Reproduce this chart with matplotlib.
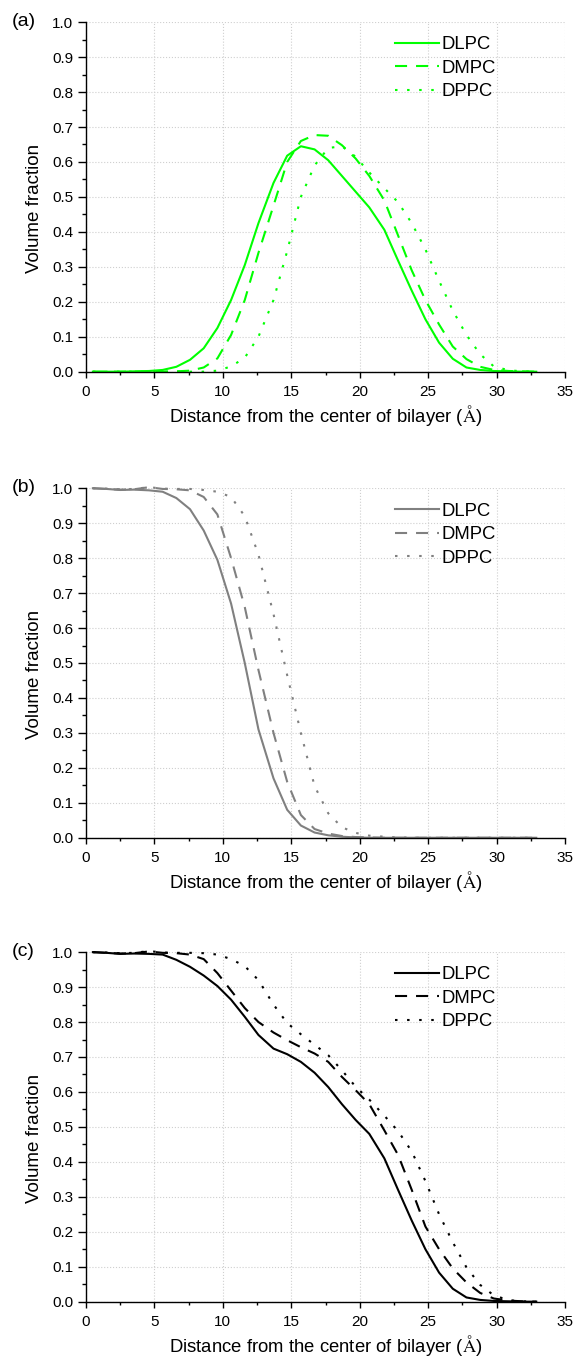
import numpy as np
import matplotlib
matplotlib.use('Agg')
import matplotlib.pyplot as plt
from matplotlib.ticker import MultipleLocator, FormatStrFormatter

plt.rcParams['font.family'] = ['Liberation Sans', 'DejaVu Sans']
plt.rcParams['mathtext.fontset'] = 'stix'

# distance from bilayer center (A)
x = [0.5, 1.5, 2.5, 3.5, 4.6, 5.6, 6.6, 7.6, 8.6, 9.6, 10.6, 11.6, 12.6, 13.7, 14.7, 15.7,
     16.7, 17.7, 18.7, 19.7, 20.7, 21.8, 22.8, 23.8, 24.8, 25.8, 26.8, 27.8, 28.8, 29.8,
     30.9, 31.9, 32.9]

# (a) green
a_dlpc = [0.0, 0.0, 0.0, 0.001, 0.002, 0.005, 0.014, 0.034, 0.067, 0.125, 0.205, 0.305, 0.425,
          0.54, 0.618, 0.645, 0.636, 0.605, 0.56, 0.515, 0.47, 0.406, 0.318, 0.232, 0.15, 0.083,
          0.037, 0.012, 0.005, 0.002, 0.001, 0.0, 0.0]
a_dmpc = [0.0, 0.0, 0.0, 0.0, 0.0, 0.0, 0.001, 0.003, 0.012, 0.038, 0.105, 0.205, 0.34, 0.475,
          0.6, 0.66, 0.677, 0.675, 0.648, 0.61, 0.56, 0.49, 0.39, 0.29, 0.205, 0.135, 0.072,
          0.036, 0.014, 0.005, 0.002, 0.001, 0.0]
a_dppc = [0.0, 0.0, 0.0, 0.0, 0.0, 0.0, 0.0, 0.0, 0.0, 0.003, 0.015, 0.04, 0.10, 0.205, 0.345,
          0.50, 0.59, 0.64, 0.645, 0.615, 0.57, 0.525, 0.485, 0.425, 0.35, 0.26, 0.175, 0.105,
          0.05, 0.015, 0.004, 0.001, 0.0]

# (b) grey
b_dlpc = [1.0, 0.998, 0.995, 0.996, 0.994, 0.99, 0.972, 0.94, 0.879, 0.795, 0.67, 0.5, 0.31,
          0.17, 0.08, 0.035, 0.015, 0.007, 0.003, 0.001, 0.0, 0.0, 0.0, 0.0, 0.0, 0.0, 0.0, 0.0,
          0.0, 0.0, 0.0, 0.0, 0.0]
b_dmpc = [1.0, 0.998, 0.996, 0.997, 1.003, 0.998, 0.997, 0.994, 0.975, 0.925, 0.80, 0.66, 0.48,
          0.30, 0.16, 0.065, 0.025, 0.012, 0.005, 0.002, 0.001, 0.0, 0.0, 0.0, 0.0, 0.0, 0.0,
          0.0, 0.0, 0.0, 0.0, 0.0, 0.0]
b_dppc = [1.0, 0.999, 0.997, 0.998, 1.003, 0.999, 0.998, 0.998, 0.995, 0.99, 0.975, 0.92,
          0.81, 0.64, 0.465, 0.30, 0.148, 0.07, 0.03, 0.014, 0.006, 0.003, 0.001, 0.0, 0.0, 0.0,
          0.0, 0.0, 0.0, 0.0, 0.0, 0.0, 0.0]

# (c) black
c_dlpc = [1.0, 0.998, 0.995, 0.996, 0.995, 0.993, 0.978, 0.958, 0.933, 0.903, 0.864, 0.815,
          0.763, 0.724, 0.708, 0.686, 0.655, 0.614, 0.565, 0.52, 0.48, 0.41, 0.32, 0.232, 0.15,
          0.083, 0.037, 0.012, 0.005, 0.002, 0.001, 0.0, 0.0]
c_dmpc = [1.0, 0.998, 0.996, 0.997, 1.002, 0.998, 0.997, 0.993, 0.98, 0.94, 0.89, 0.84, 0.80,
          0.77, 0.748, 0.728, 0.71, 0.686, 0.643, 0.605, 0.565, 0.49, 0.42, 0.32, 0.215, 0.15,
          0.095, 0.055, 0.025, 0.009, 0.003, 0.001, 0.0]
c_dppc = [1.0, 0.999, 0.997, 0.998, 1.003, 0.999, 0.998, 0.998, 0.997, 0.993, 0.98, 0.96,
          0.92, 0.85, 0.797, 0.765, 0.735, 0.705, 0.662, 0.615, 0.578, 0.532, 0.488, 0.43, 0.345,
          0.25, 0.17, 0.098, 0.048, 0.018, 0.004, 0.001, 0.0]

names = ['DLPC', 'DMPC', 'DPPC']
panels = [('(a)', '#00ff00', [a_dlpc, a_dmpc, a_dppc]),
          ('(b)', '#808080', [b_dlpc, b_dmpc, b_dppc]),
          ('(c)', '#000000', [c_dlpc, c_dmpc, c_dppc])]
styles = [dict(linestyle='-'), dict(dashes=(5.8, 4.3)), dict(dashes=(1.2, 4.6))]

fig = plt.figure(figsize=(5.75, 13.6), dpi=100)
bottoms = [0.7267, 0.3840, 0.0429]
ax_h = 0.2570

for (tag, col, series), bot in zip(panels, bottoms):
    ax = fig.add_axes([0.1496, bot, 0.833, ax_h])
    for ys, nm, st in zip(series, names, styles):
        ax.plot(x, ys, color=col, lw=1.5, label=nm, clip_on=False, **st)
    ax.set_xlim(0, 35)
    ax.set_ylim(0, 1.0)
    ax.xaxis.set_major_locator(MultipleLocator(5))
    ax.xaxis.set_minor_locator(MultipleLocator(2.5))
    ax.yaxis.set_major_locator(MultipleLocator(0.1))
    ax.yaxis.set_minor_locator(MultipleLocator(0.05))
    ax.yaxis.set_major_formatter(FormatStrFormatter('%.1f'))
    ax.grid(True, which='major', linestyle=':', color='#cfcfcf', lw=0.8)
    ax.set_axisbelow(True)
    ax.spines['top'].set_visible(False)
    ax.spines['right'].set_visible(False)
    for s in ['left', 'bottom']:
        ax.spines[s].set_linewidth(1.0)
    ax.tick_params(axis='x', which='major', direction='out', length=4.5, width=1.0,
                   labelsize=11, pad=5)
    ax.tick_params(axis='x', which='minor', direction='out', length=2.5, width=1.0)
    ax.tick_params(axis='y', which='major', direction='out', length=5.8, width=1.0,
                   labelsize=11, pad=3.5)
    ax.tick_params(axis='y', which='minor', direction='out', length=2.9, width=1.0)
    ax.set_xlabel('Distance from the center of bilayer ($\\mathrm{\\AA}$)', fontsize=13.3,
                  va='center')
    ax.xaxis.set_label_coords(0.5, -44.0 / 350)
    ax.set_ylabel('Volume fraction', fontsize=13.5, va='center')
    ax.yaxis.set_label_coords(-52.0 / 479, 0.466)
    ax.legend(loc='upper left', bbox_to_anchor=(0.645, 0.959), frameon=False, fontsize=13.3,
              handlelength=2.38, handletextpad=0.15, labelspacing=0.35, borderpad=0,
              borderaxespad=0)
    top_px = (1 - (bot + ax_h)) * 1360
    fig.text(12 / 575, 1 - (top_px - 1) / 1360, tag, fontsize=14, ha='left', va='center')

fig.savefig('out.png', dpi=100)
